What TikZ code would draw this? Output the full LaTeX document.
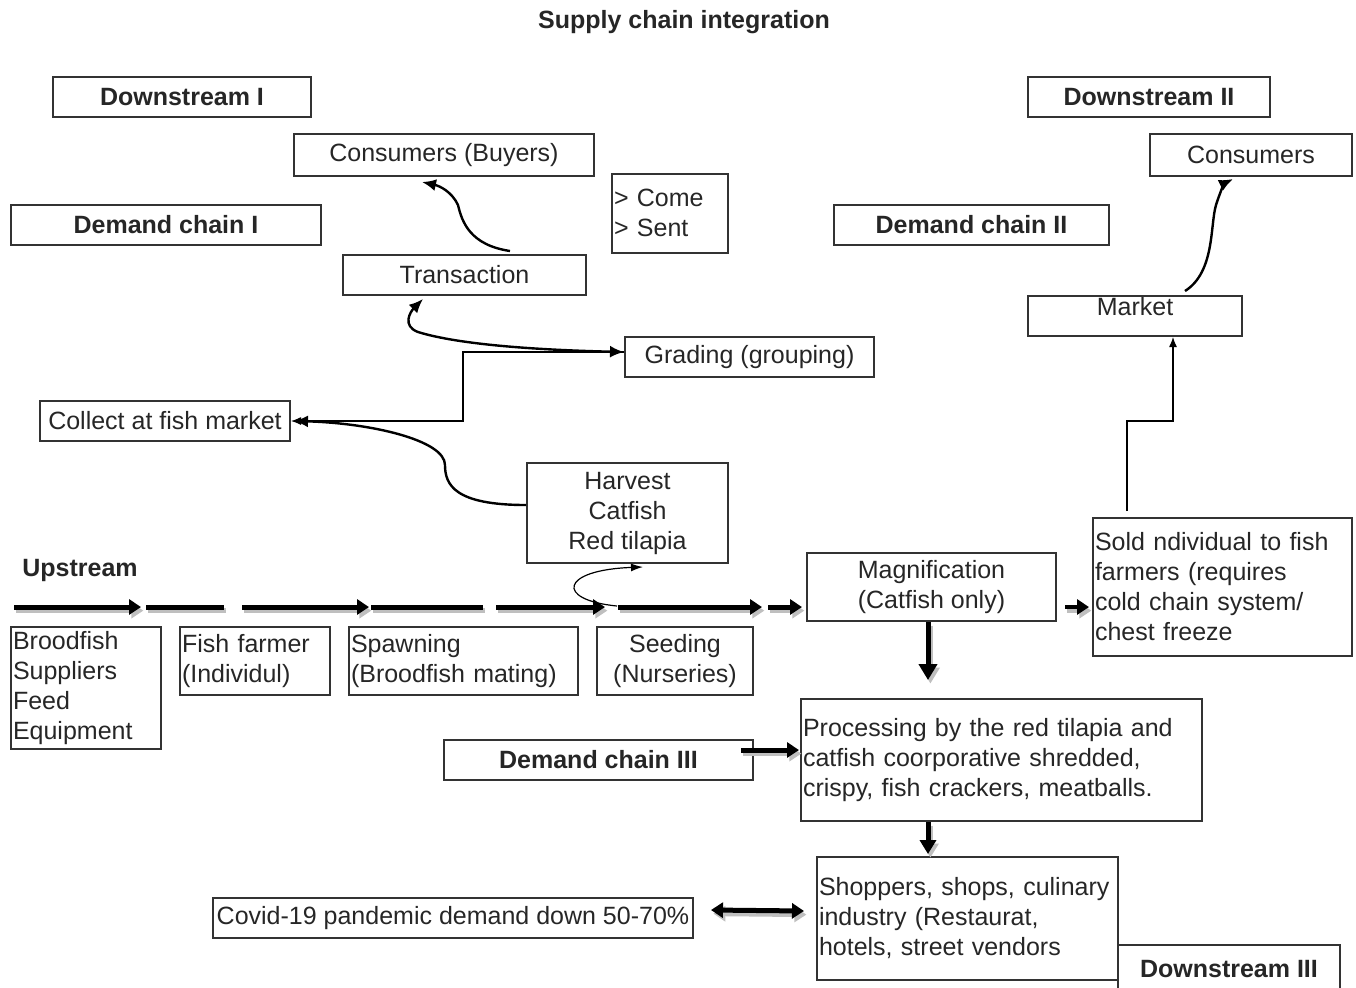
\documentclass[tikz,border=0pt]{standalone}
\usepackage{fontspec}
\setmainfont{Liberation Sans}
\usepackage{tikz}
\usetikzlibrary{arrows.meta}

\begin{document}
\begin{tikzpicture}[x=0.5pt,y=-0.5pt,
  every node/.style={font=\fontsize{12.5}{15}\selectfont, text=black!85},
  box/.style={draw=black!80, line width=1pt, inner sep=1pt},
  lbox/.style={box, align=left},
  hbox/.style={box, font=\fontsize{12.5}{15}\selectfont\bfseries},
  fat/.style={line width=2.5pt, -{Triangle[length=6pt,width=7.5pt]}},
  fatline/.style={line width=2.5pt},
  thin/.style={line width=0.6pt, -{Latex[length=5pt,width=4pt]}},
  curve/.style={line width=1.2pt, -{Latex[length=7pt,width=6pt]}}]
  \useasboundingbox (0,0) rectangle (1356,987);

  \node[font=\fontsize{12.5}{15}\selectfont\bfseries] (title) at (684,22) {Supply chain integration};

  % demand side, upper part
  \node[hbox, minimum width=129pt, minimum height=20pt] (ds1) at (182,97) {Downstream I};
  \node[hbox, minimum width=121pt, minimum height=20pt] (ds2) at (1149,97) {Downstream II};
  \node[box, minimum width=150pt, minimum height=21pt] (buyers) at (444,155) {Consumers (Buyers)};
  \node[box, minimum width=101pt, minimum height=21pt] (cons) at (1251,155) {Consumers};
  \node[lbox, text width=56pt, minimum height=39.5pt] (come) at (670,213) {> Come\\> Sent};
  \node[hbox, minimum width=155pt, minimum height=20pt] (dc1) at (166,225) {Demand chain I};
  \node[hbox, minimum width=137.5pt, minimum height=20pt] (dc2) at (971.5,225) {Demand chain II};
  \node[box, minimum width=121.5pt, minimum height=20pt] (trans) at (464.5,275) {Transaction};
  \node[box, minimum width=107pt, minimum height=20pt, inner ysep=0pt, text depth=10pt] (market) at (1135,316) {Market};
  \node[box, minimum width=124.5pt, minimum height=20pt] (grading) at (749.5,357) {Grading (grouping)};
  \node[box, minimum width=125pt, minimum height=20pt] (collect) at (165,421) {Collect at fish market};
  \node[box, align=center, minimum width=100.5pt, minimum height=50pt] (harvest) at (627.5,513) {Harvest\\Catfish\\Red tilapia};

  % upstream
  \node[font=\fontsize{12.5}{15}\selectfont\bfseries] (up) at (80,570) {Upstream};
  \node[box, align=center, minimum width=124.5pt, minimum height=34pt] (magn) at (931.5,587) {Magnification\\(Catfish only)};
  \node[lbox, text width=127.5pt, minimum height=69pt] (sold) at (1222.5,587) {Sold ndividual to fish\\farmers (requires\\cold chain system/\\chest freeze};
  \node[lbox, text width=73pt, minimum height=61pt] (brood) at (86,688) {Broodfish\\Suppliers\\Feed\\Equipment};
  \node[lbox, text width=73pt, minimum height=34pt] (farmer) at (255,661) {Fish farmer\\(Individul)};
  \node[lbox, text width=112.5pt, minimum height=34pt] (spawn) at (463.5,661) {Spawning\\(Broodfish mating)};
  \node[box, align=center, minimum width=78pt, minimum height=34pt] (seed) at (675,661) {Seeding\\(Nurseries)};

  % demand chain III
  \node[hbox, minimum width=154.5pt, minimum height=20pt] (dc3) at (598.5,760) {Demand chain III};
  \node[lbox, text width=198.5pt, minimum height=61pt] (proc) at (1001.5,760) {Processing by the red tilapia and\\catfish coorporative shredded,\\crispy, fish crackers, meatballs.};
  \node[lbox, text width=148.5pt, minimum height=61.5pt] (shop) at (967.5,918.5) {Shoppers, shops, culinary\\industry (Restaurat,\\hotels, street vendors};
  \node[box, minimum width=240pt, minimum height=20pt] (covid) at (453,918) {Covid-19 pandemic demand down 50-70\%};
  \node[hbox, minimum width=111pt, minimum height=24pt] (ds3) at (1229,969) {Downstream III};

  % fat arrows, first the grey shadow, then black
  \foreach \col/\dx/\dy in {gray!50/1.2pt/-1.8pt, black/0pt/0pt} {
  \begin{scope}[transform canvas={xshift=\dx,yshift=\dy}, \col]
    \foreach \xa/\xb in {14/141, 242/369, 496/605, 618/762, 768/802}
      \draw[fat] (\xa,607) -- (\xb,607);
    \foreach \xa/\xb in {146/224, 371/483}
      \draw[fatline] (\xa,607) -- (\xb,607);
    \draw[fat, line width=2pt] ([xshift=4pt,yshift=-10pt]magn.east) -- ([xshift=-1.5pt,yshift=-10pt]sold.west);
    \draw[fat, -{Triangle[length=8pt,width=9pt]}] (magn.south) ++(-1.75pt,0) -- ([xshift=-36.75pt,yshift=9pt]proc.north);
    \draw[fat, -{Triangle[length=7pt,width=8pt]}] ([xshift=-36.75pt]proc.south) -- ([xshift=-19.75pt,yshift=1pt]shop.north);
    \draw[fat] ([xshift=-6.5pt,yshift=5pt]dc3.east) -- ([xshift=-0.5pt,yshift=5pt]proc.west);
    \draw[fat, {Triangle[length=6pt,width=7.5pt]}-{Triangle[length=6pt,width=7.5pt]}] ([xshift=8.5pt,yshift=4pt]covid.east) -- ([xshift=-6pt,yshift=3.75pt]shop.west);
  \end{scope}}
  \coordinate (loop) at (617,606);

  % thin links
  \draw[curve] ([xshift=22.75pt,yshift=1.5pt]trans.north) .. controls (470,245) and (462,222) .. (458,205)
    .. controls (452,192) and (440,186) .. ([xshift=-11pt,yshift=-2.5pt]buyers.south);
  \draw[curve, {Latex[length=7pt,width=6pt]}-{Latex[length=7pt,width=6pt]}] ([xshift=-20.75pt,yshift=-1.5pt]trans.south)
    .. controls (410,312) and (402,326) .. (418,332) .. controls (460,345) and (540,350) .. ([yshift=2.5pt]grading.west);
  \draw[thin] ([yshift=2.5pt]grading.west) -- (463,352) |- (collect.east);
  \draw[curve] ([yshift=4pt]harvest.west) .. controls (455,505) and (445,485) .. (445,465)
    .. controls (445,440) and (370,423) .. ([xshift=1.5pt]collect.east);
  \draw[line width=0.6pt, -{Latex[length=6pt,width=4pt]}] (loop) .. controls (555,600) and (560,570) .. ([xshift=7.75pt,yshift=-1.5pt]harvest.south);
  \draw[thin] ([xshift=-47.75pt,yshift=3pt]sold.north) |- (1173,421) -- ([xshift=19pt]market.south);
  \draw[curve] ([xshift=25pt,yshift=2pt]market.north) .. controls (1215,272) and (1210,225) .. (1216,205)
    .. controls (1220,192) and (1225,183) .. ([xshift=-9pt,yshift=-1pt]cons.south);
\end{tikzpicture}
\end{document}
